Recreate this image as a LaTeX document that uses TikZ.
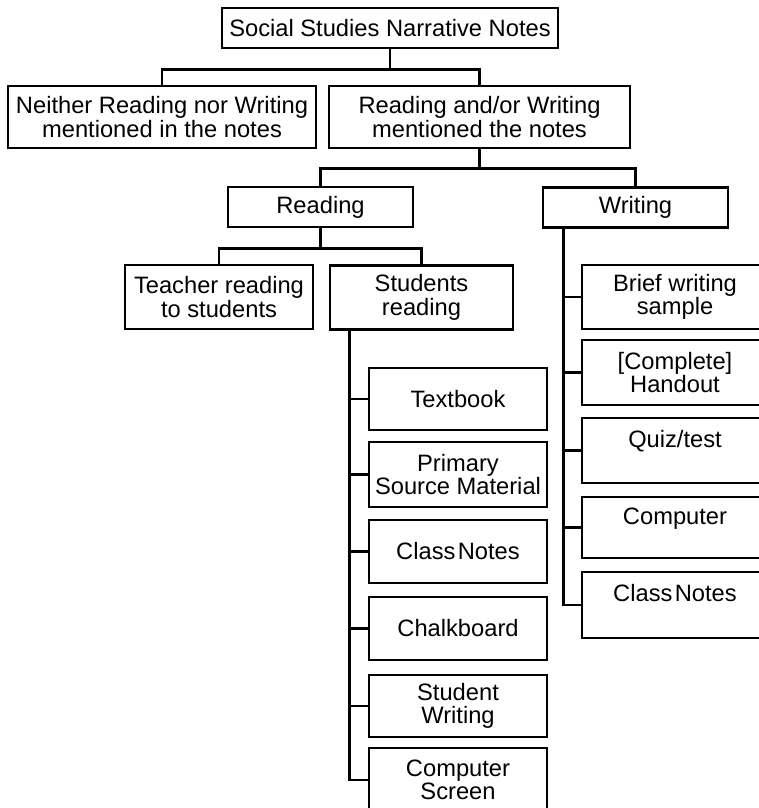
\documentclass[tikz,border=0pt]{standalone}
\usepackage{fontspec}
\setmainfont{Liberation Sans}
\begin{document}
\begin{tikzpicture}[x=1pt,y=-1pt,
  box/.style={draw, line width=2.7pt, inner sep=0pt, align=center,
    font=\fontsize{23.7}{23.5}\selectfont},
  link/.style={line width=2.5pt}]
\useasboundingbox (0,0) rectangle (759,808);
\clip (0,0) rectangle (759,808);

% top levels
\node[box, minimum width=336, minimum height=40] (root) at (390,28) {Social Studies Narrative Notes};
\node[box, minimum width=308, minimum height=62] (neither) at (162,117) {Neither Reading nor Writing\\mentioned in the notes};
\node[box, minimum width=301, minimum height=62] (mention) at (479.5,117) {Reading and/or Writing\\mentioned the notes};

\node[box, minimum width=185, minimum height=40] (reading) at (320.5,207) {Reading};
\node[box, minimum width=185, minimum height=40] (writing) at (635.5,207.5) {Writing};

\node[box, minimum width=188, minimum height=64] (teacher) at (219,297) {Teacher reading\\to students};
\node[box, minimum width=183, minimum height=64] (students) at (421.5,297.5) {Students\\reading};

% reading materials
\node[box, minimum width=178, minimum height=62] (textbook) at (458,399) {Textbook};
\node[box, minimum width=178, minimum height=65] (primary) at (458,474.5) {Primary\\Source Material};
\node[box, minimum width=178, minimum height=63] (notesR) at (458,551.5) {Class\hspace{0.1em}Notes};
\node[box, minimum width=178, minimum height=63] (chalk) at (458,628.5) {Chalkboard};
\node[box, minimum width=178, minimum height=62] (stwrite) at (458,706) {Student\\Writing};
\node[box, minimum width=178, minimum height=64] (screen) at (458,780) {Computer\\Screen};

% writing products
\node[box, minimum width=186, minimum height=64] (brief) at (675,297) {Brief writing\\sample};
\node[box, minimum width=186, minimum height=65] (handout) at (675,372.5) {[Complete]\\Handout};
\node[box, minimum width=186, minimum height=65] (quiz) at (675,450.5) {Quiz/test\\~};
\node[box, minimum width=186, minimum height=61] (computer) at (675,527.5) {Computer\\~};
\node[box, minimum width=186, minimum height=66] (notesW) at (675,605) {Class\hspace{0.1em}Notes\\~};

% connectors
\draw[link] (root.south) -- ++(0,20) coordinate (j1);
\draw[link] (neither.north) |- (j1) -| (mention.north);
\draw[link] (mention.south) -- ++(0,19) coordinate (j2);
\draw[link] (reading.north) |- (j2) -| (writing.north);
\draw[link] (reading.south) -- ++(0,20) coordinate (j3);
\draw[link] (teacher.north) |- (j3) -| (students.north);

\coordinate (stemR) at ([xshift=21pt]students.south west);
\draw[link] (stemR) |- (screen.west);
\foreach \n in {textbook,primary,notesR,chalk,stwrite}
  \draw[link] (\n.west) -- (\n.west -| stemR);

\coordinate (stemW) at ([xshift=22pt]writing.south west);
\draw[link] (stemW) |- (notesW.west);
\foreach \n in {brief,handout,quiz,computer}
  \draw[link] (\n.west) -- (\n.west -| stemW);
\end{tikzpicture}
\end{document}
